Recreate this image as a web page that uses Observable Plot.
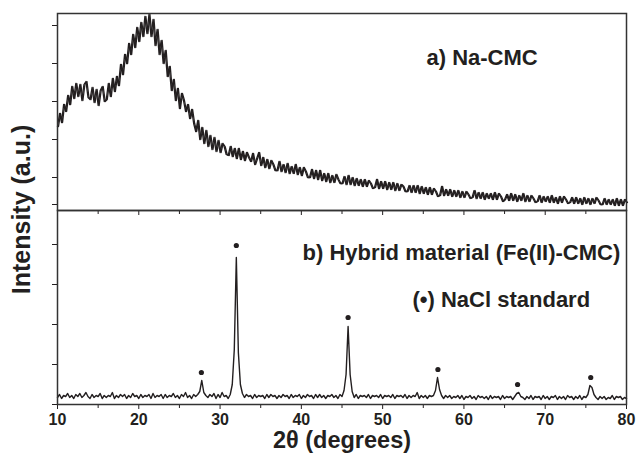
<!DOCTYPE html>
<html><head><meta charset="utf-8">
<script src="https://cdn.jsdelivr.net/npm/d3@7"></script>
<script src="https://cdn.jsdelivr.net/npm/@observablehq/plot@0.6"></script>
<style>
body{margin:0;background:#fff;}
#chart{position:relative;width:636px;height:453px;}
#chart svg{position:absolute;left:0;}
</style></head><body><div id="chart"></div>
<script>
// XRD scans, 2θ from 10° to 80° in 0.25° steps (intensity in a.u.)
const scanStart = 10, scanStep = 0.25;
const naCmcIntensity = [
 84,97,88,106, 99,115,106,124, 112,127,114,126, 110,126,129,113, 111,123,108,121,
 105,120,124,109, 111,127,114,132, 119,134,125,146, 136,156,147,167, 156,176,163,183,
 169,188,174,194, 177,196,174,191, 165,181,156,170, 147,160,134,144, 120,131,110,122,
 102,117,110,99, 106,92,101,87, 79,90,71,83, 67,80,64,75, 61,73,59,70,
 58,67,64,56, 55,64,54,62, 52,62,51,59, 50,58,53,49, 57,46,52,58,
 45,53,43,51, 42,50,46,40, 40,49,39,46, 38,47,37,44, 37,46,36,43,
 35,43,39,33, 33,41,32,40, 31,40,30,37, 29,37,28,35, 28,36,31,27,
 27,34,26,35, 26,33,25,32, 25,31,24,31, 24,30,27,22, 23,31,22,29,
 22,29,21,28, 21,28,20,27, 20,26,24,19, 19,25,18,25, 18,25,17,24,
 17,23,16,23, 16,22,19,14, 15,24,15,21, 15,21,14,20, 14,20,13,19,
 13,19,16,12, 13,20,12,18, 12,18,11,17, 12,17,11,18, 11,17,14,9,
 11,16,10,17, 10,16,9,15, 10,17,9,15, 9,15,12,8, 9,15,8,14,
 9,14,8,15, 8,13,7,14, 8,14,11,7, 8,13,7,13, 7,12,6,13,
 7,12,6,12, 7,13,10,6, 6,12,6,11, 6,11,5,12, 5,11,5,11,
 8
];
const hybridIntensity = [
 7,10,6,9, 8,11,7,9, 6,10,8,11, 7,9,12,8, 6,10,7,9,
 8,11,6,9, 7,9,8,12, 6,9,7,10, 8,10,6,9, 7,11,8,9,
 6,10,7,9, 8,10,6,11, 7,9,8,10, 6,10,7,9, 8,11,7,9,
 6,10,8,12, 7,9,6,10, 8,10,13,24, 12,9,7,10, 8,11,6,10,
 7,12,8,9, 6,10,20,55, 147,52,20,11, 7,10,8,9, 6,10,7,9,
 8,9,6,10, 7,10,8,9, 6,9,7,10, 8,9,6,10, 7,9,8,10,
 6,9,7,10, 8,9,6,10, 7,10,7,9, 6,9,8,10, 7,9,6,10,
 8,14,30,78, 30,13,7,10, 6,9,8,9, 7,10,6,9, 8,9,7,10,
 6,9,8,9, 7,10,6,9, 8,9,7,10, 6,9,7,9, 8,12,6,9,
 7,9,6,9, 8,9,14,27, 15,9,6,9, 7,9,6,8, 7,9,6,9,
 5,8,7,9, 6,8,5,9, 7,8,6,8, 5,9,6,8, 7,8,5,9,
 6,8,7,8, 5,8,11,12, 8,7,5,8, 6,9,5,8, 7,8,5,9,
 6,8,5,8, 7,9,5,8, 6,8,5,9, 7,8,5,8, 6,9,5,8,
 7,10,19,17, 10,7,5,8, 6,8,5,7, 6,9,5,8, 7,8,5,7,
 6
];
// NaCl reflections marked with dots
const naclTheta = [27.7, 32.0, 45.75, 56.8, 66.6, 75.6];
const naclMarkY = [32, 159, 87, 35, 20, 27];

const xMajorTicks = [10, 20, 30, 40, 50, 60, 70, 80];
const xMinorTicks = [15, 25, 35, 45, 55, 65, 75];
const topYTicks = [6, 33, 71, 109, 147, 185];
const bottomYTicks = [0, 40, 80, 120, 160];
const panelLabels = ["a) Na-CMC", "b) Hybrid material (Fe(II)-CMC)", "(\u2022) NaCl standard"];
const xTitle = "2\u03b8 (degrees)";
const yTitle = "Intensity (a.u.)";

const ink = "#231f20";
const frameColor = "#333";
const font = "'Liberation Sans', Arial, Helvetica, sans-serif";
const blank = () => "";
const style = {background: "transparent", overflow: "visible", color: ink, fontFamily: font, fontWeight: "bold"};

const topData = naCmcIntensity.map((v, i) => ({theta: scanStart + i * scanStep, I: v}));
const botData = hybridIntensity.map((v, i) => ({theta: scanStart + i * scanStep, I: v}));
const naclData = naclTheta.map((t, i) => ({theta: t, I: naclMarkY[i]}));

const topPlot = Plot.plot({
  width: 636, height: 210,
  marginTop: 13, marginBottom: 0, marginLeft: 57, marginRight: 10,
  x: {domain: [10, 80]},
  y: {domain: [0, 197]},
  style,
  marks: [
    // drawn twice, 1px apart, so the noisy scan reads as a dense band
    Plot.line(topData, {x: "theta", y: "I", stroke: ink, strokeWidth: 1.3}),
    Plot.line(topData, {x: "theta", y: "I", stroke: ink, strokeWidth: 1.3, dx: 1}),
    Plot.axisY(topYTicks, {anchor: "left", tickSize: 5, tickFormat: blank, label: null}),
    Plot.axisX(xMajorTicks, {anchor: "bottom", tickSize: 5, tickFormat: blank, label: null}),
    Plot.axisX(xMinorTicks, {anchor: "bottom", tickSize: 4, tickFormat: blank, label: null}),
    Plot.frame({stroke: frameColor, strokeWidth: 1.5}),
    Plot.text([panelLabels[0]], {text: d => d, frameAnchor: "top-left", dx: 369, dy: 44.5, textAnchor: "start", lineAnchor: "middle", fontSize: 22, fill: ink}),
    Plot.text([yTitle], {text: d => d, frameAnchor: "bottom-left", rotate: -90, dx: -36, dy: -1, textAnchor: "middle", lineAnchor: "middle", fontSize: 25, fill: ink})
  ]
});

const bottomPlot = Plot.plot({
  width: 636, height: 243,
  marginTop: 0, marginBottom: 49, marginLeft: 57, marginRight: 10,
  x: {domain: [10, 80]},
  y: {domain: [0, 194]},
  style,
  marks: [
    Plot.line(botData, {x: "theta", y: "I", stroke: ink, strokeWidth: 1.4}),
    Plot.dot(naclData, {x: "theta", y: "I", r: 2.6, fill: ink, stroke: "none"}),
    Plot.axisY(bottomYTicks, {anchor: "left", tickSize: 5, tickFormat: blank, label: null}),
    Plot.axisX(xMajorTicks, {anchor: "bottom", tickSize: 5, tickPadding: 4, fontSize: 16, tickFormat: d => String(d), label: null}),
    Plot.axisX(xMinorTicks, {anchor: "bottom", tickSize: 4, tickFormat: blank, label: null}),
    Plot.frame({stroke: frameColor, strokeWidth: 1.5}),
    Plot.text([panelLabels[1]], {text: d => d, frameAnchor: "top-left", dx: 245, dy: 42, textAnchor: "start", lineAnchor: "middle", fontSize: 22, fill: ink}),
    Plot.text([panelLabels[2]], {text: d => d, frameAnchor: "top-left", dx: 355, dy: 89, textAnchor: "start", lineAnchor: "middle", fontSize: 22, fill: ink}),
    Plot.text([xTitle], {text: d => d, frameAnchor: "bottom", dy: 36, textAnchor: "middle", lineAnchor: "middle", fontSize: 23.5, fill: ink})
  ]
});

topPlot.style.top = "0px";
bottomPlot.style.top = "210px";
const chart = document.getElementById("chart");
chart.appendChild(topPlot);
chart.appendChild(bottomPlot);
</script>
</body></html>
